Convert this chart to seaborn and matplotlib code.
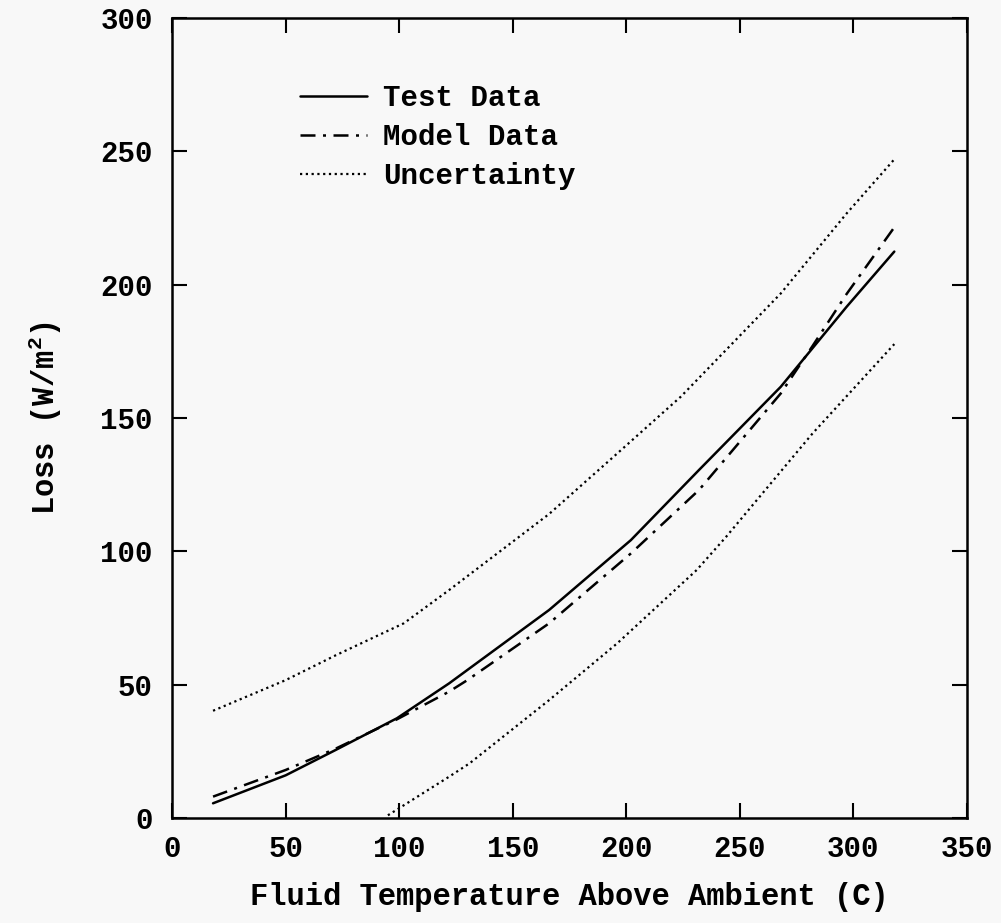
import numpy as np
import pandas as pd
import matplotlib
matplotlib.use("Agg")
import matplotlib.pyplot as plt
import seaborn as sns

# values
test_x = [18, 50, 72, 99, 122, 166, 202, 232, 268, 297, 318]
test_y = [5.5, 16, 25.5, 37.4, 50.5, 78, 104.2, 130.5, 161.7, 191.7, 212.4]

model_x = [18, 50, 72, 99, 122, 130, 166, 202, 232, 268, 282, 297, 318]
model_y = [8, 18, 26, 37, 47.4, 51.7, 73, 99.2, 123, 159.2, 177, 196.5, 221.5]

upper_x = [18, 50, 72, 102, 122, 166, 196, 224, 268, 297, 318]
upper_y = [40.2, 51.7, 61, 73, 85.5, 114, 136.7, 158, 196.7, 226.7, 247]

lower_x = [95, 122, 131, 166, 196, 231, 244, 282, 318]
lower_y = [1, 15.5, 20.5, 44.2, 65.5, 93, 105.5, 144.2, 177.7]

sns.set_theme(style="ticks")
plt.rcParams["font.family"] = ["Liberation Mono", "DejaVu Sans Mono"]
plt.rcParams["font.weight"] = "bold"
plt.rcParams["axes.labelweight"] = "bold"
plt.rcParams["mathtext.default"] = "regular"
plt.rcParams["text.color"] = "black"
plt.rcParams["axes.labelcolor"] = "black"

fig = plt.figure(figsize=(10.01, 9.23), dpi=100, facecolor="#f8f8f8")
ax = fig.add_axes([0.172, 0.1138, 0.794, 0.8667])
ax.set_facecolor("#f8f8f8")

sns.lineplot(x=test_x, y=test_y, ax=ax, color="black", lw=1.8,
             sort=False, estimator=None, label="Test Data")
sns.lineplot(x=model_x, y=model_y, ax=ax, color="black", lw=1.8,
             sort=False, estimator=None, label="Model Data",
             linestyle=(0, (6, 3, 1.2, 3)))
sns.lineplot(x=upper_x, y=upper_y, ax=ax, color="black", lw=1.6,
             sort=False, estimator=None, label="Uncertainty",
             linestyle=(0, (1, 1.6)))
sns.lineplot(x=lower_x, y=lower_y, ax=ax, color="black", lw=1.6,
             sort=False, estimator=None, linestyle=(0, (1, 1.6)))

ax.set_xlim(0, 350)
ax.set_ylim(0, 300)
ax.set_xticks(np.arange(0, 351, 50))
ax.set_yticks(np.arange(0, 301, 50))
ax.tick_params(direction="in", length=11, width=1.5, top=True, right=True,
               labelsize=21, colors="black")
ax.tick_params(axis="x", pad=12)
ax.tick_params(axis="y", pad=14)
for sp in ax.spines.values():
    sp.set_visible(True)
    sp.set_linewidth(1.8)
    sp.set_color("black")

ax.set_xlabel("Fluid Temperature Above Ambient (C)", fontsize=22, labelpad=14)
ax.set_ylabel("Loss (W/m$^{2}$)", fontsize=22, labelpad=26)

leg = ax.legend(loc="upper left", bbox_to_anchor=(0.128, 0.95), frameon=False,
                fontsize=21, handlelength=2.3, handletextpad=0.55,
                labelspacing=0.38)

fig.savefig("out.png", dpi=100, facecolor=fig.get_facecolor())
